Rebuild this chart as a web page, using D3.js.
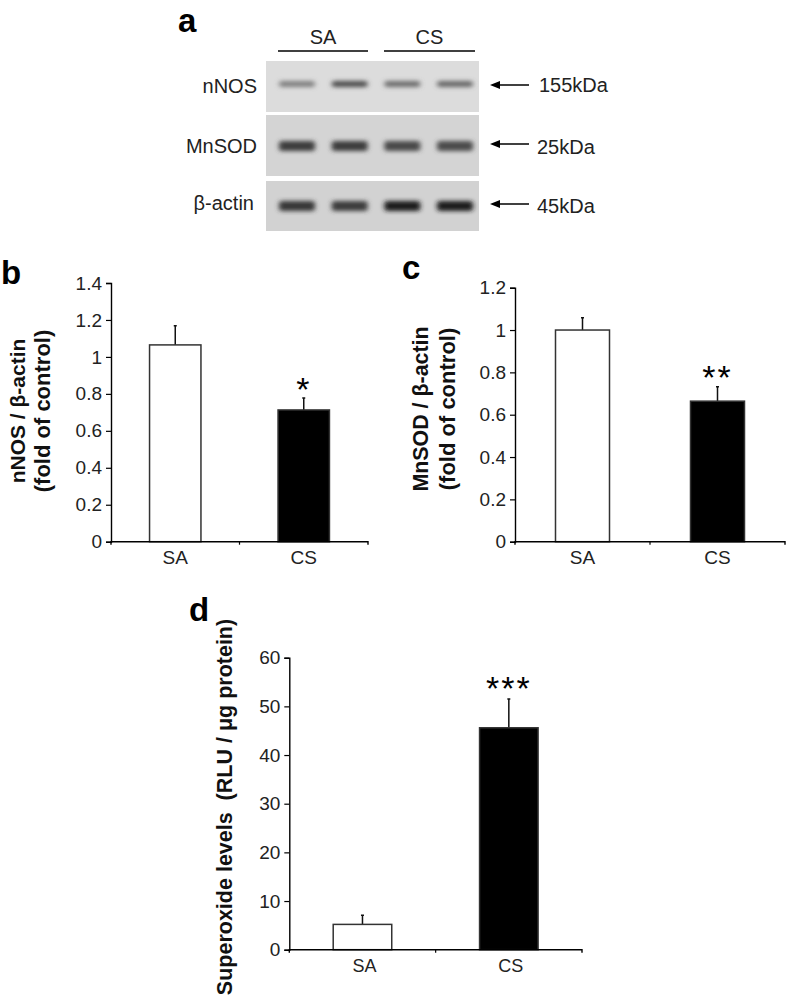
<!DOCTYPE html>
<html>
<head>
<meta charset="utf-8">
<script src="https://cdn.jsdelivr.net/npm/d3@7"></script>
<style>
  html, body { margin: 0; padding: 0; background: #fff; }
  svg { display: block; }
  text { font-family: "Liberation Sans", sans-serif; fill: #222; }
  .letter { font-size: 33px; font-weight: bold; fill: #000; }
  .title { font-weight: bold; fill: #111; }
  .tick text { font-size: 19px; fill: #222; }
  .blot-label { font-size: 20px; }
</style>
</head>
<body>
<svg id="fig" width="786" height="998"></svg>
<script>
// bar data
var groups = ["SA", "CS"];
var nnosMeans = [1.065, 0.713];
var nnosErrors = [0.104, 0.065];
var nnosTicks = [0, 0.2, 0.4, 0.6, 0.8, 1, 1.2, 1.4];
var mnsodMeans = [1.0, 0.664];
var mnsodErrors = [0.058, 0.068];
var mnsodTicks = [0, 0.2, 0.4, 0.6, 0.8, 1, 1.2];
var superoxideMeans = [5.2, 45.6];
var superoxideErrors = [1.9, 5.9];
var superoxideTicks = [0, 10, 20, 30, 40, 50, 60];

// blot data: band darkness per lane, 0 to 1
var blotLanes = [0, 1, 2, 3];
var blotProteins = ["nNOS", "MnSOD", "\u03b2-actin"];
var blotSizes = ["155kDa", "25kDa", "45kDa"];
var nnosBands = [0.45, 0.72, 0.55, 0.58];
var mnsodBands = [0.8, 0.8, 0.74, 0.72];
var actinBands = [0.82, 0.8, 0.95, 0.95];

var svg = d3.select("#fig");
var defs = svg.append("defs");

defs.append("filter").attr("id", "bandBlur")
    .attr("x", "-20%").attr("y", "-100%").attr("width", "140%").attr("height", "300%")
    .append("feGaussianBlur").attr("stdDeviation", "2.6 2");

var marker = defs.append("marker").attr("id", "arrowHead")
    .attr("viewBox", "0 0 10 8").attr("refX", 0).attr("refY", 4)
    .attr("markerUnits", "userSpaceOnUse")
    .attr("markerWidth", 10).attr("markerHeight", 9).attr("orient", "auto");
marker.append("path").attr("d", "M0,0L10,4L0,8Z").attr("fill", "#000");

var letter = function(s, x, y) {
    svg.append("text").attr("class", "letter").attr("x", x).attr("y", y).text(s);
};

// panel a
var drawBlot = function() {
    var lane = d3.scalePoint().domain(blotLanes).range([297, 455]);
    var darkness = d3.scaleLinear().domain([0, 1]).range(["#d8d8d8", "#151515"]);
    var rows = [
        {top: 61, bottom: 112, band: 84, h: 6, labelY: 93, arrowY: 85, sizeX: 539, sizeY: 92, bg: "#dcdcdc", labelX: 257, vals: nnosBands},
        {top: 115, bottom: 176, band: 146, h: 10, labelY: 153, arrowY: 144, sizeX: 537, sizeY: 154, bg: "#d4d4d4", labelX: 257, vals: mnsodBands},
        {top: 181, bottom: 231, band: 206, h: 10, labelY: 210, arrowY: 204, sizeX: 537, sizeY: 213, bg: "#d2d2d2", labelX: 254, vals: actinBands}
    ];

    rows.forEach(function(r, i) {
        svg.append("rect").attr("x", 266).attr("y", r.top)
            .attr("width", 213).attr("height", r.bottom - r.top)
            .attr("fill", r.bg);

        svg.append("g").attr("filter", "url(#bandBlur)")
            .selectAll("rect").data(r.vals).enter().append("rect")
            .attr("x", function(d, j) { return lane(j) - 18; })
            .attr("y", r.band - r.h / 2)
            .attr("width", 36)
            .attr("height", r.h)
            .attr("rx", 3)
            .attr("fill", function(d) { return darkness(d); });

        svg.append("text").attr("class", "blot-label")
            .attr("x", r.labelX).attr("y", r.labelY)
            .attr("text-anchor", "end").text(blotProteins[i]);

        // drawn right to left so the head lands on the blot side
        svg.append("line")
            .attr("x1", 529).attr("x2", 500)
            .attr("y1", r.arrowY).attr("y2", r.arrowY)
            .attr("stroke", "#000").attr("stroke-width", 1.5)
            .attr("marker-end", "url(#arrowHead)");

        svg.append("text").attr("class", "blot-label")
            .attr("x", r.sizeX).attr("y", r.sizeY).text(blotSizes[i]);
    });

    var headers = [{x1: 278, x2: 368}, {x1: 384, x2: 475}];
    headers.forEach(function(h, i) {
        svg.append("line").attr("x1", h.x1).attr("x2", h.x2)
            .attr("y1", 51).attr("y2", 51)
            .attr("stroke", "#000").attr("stroke-width", 1.5);
        svg.append("text").attr("class", "blot-label")
            .attr("x", (h.x1 + h.x2) / 2).attr("y", 44)
            .attr("text-anchor", "middle").text(groups[i]);
    });
};

// panels b, c, d
var drawBars = function(o) {
    var x = d3.scaleBand().domain(groups).range([o.x0, o.x1])
        .paddingInner(0.6).paddingOuter(0.3);
    var y = d3.scaleLinear().domain([0, o.max]).range([o.y0, o.y1]);
    var g = svg.append("g");
    var bw = x.bandwidth();

    // error bars go under the bars
    g.selectAll(".err").data(o.means).enter().append("path")
        .attr("class", "err")
        .attr("fill", "none").attr("stroke", "#111").attr("stroke-width", 1.5)
        .attr("d", function(d, i) {
            var cx = x(groups[i]) + bw / 2;
            var top = y(d + o.errors[i]);
            return "M" + cx + "," + y(d) + "V" + top + "M" + (cx - 1.5) + "," + top + "H" + (cx + 1.5);
        });

    g.selectAll(".bar").data(o.means).enter().append("rect")
        .attr("class", "bar")
        .attr("x", function(d, i) { return x(groups[i]); })
        .attr("y", function(d) { return y(d); })
        .attr("width", bw)
        .attr("height", function(d) { return y(0) - y(d); })
        .attr("fill", function(d, i) { return i == 0 ? "#fff" : "#000"; })
        .attr("stroke", "#333").attr("stroke-width", 1.5);

    var yAxis = d3.axisLeft(y).tickValues(o.ticks).tickSize(5).tickPadding(4)
        .tickFormat(function(d) { return String(d); });
    var yg = g.append("g").attr("transform", "translate(" + o.x0 + ",0)").call(yAxis);
    yg.select(".domain").attr("stroke", "#000").attr("stroke-width", 1.4);
    yg.selectAll(".tick line").attr("stroke", "#000").attr("stroke-width", 1.2);

    var xAxis = d3.axisBottom(x).tickSize(0).tickPadding(o.catPad);
    var xg = g.append("g").attr("transform", "translate(0," + o.y0 + ")").call(xAxis);
    xg.select(".domain").attr("stroke", "#000").attr("stroke-width", 1.4)
        .attr("d", "M" + o.x0 + ",3V0H" + o.x1 + "V3");
    xg.selectAll(".tick text").style("font-size", o.catSize + "px").attr("dx", o.catDx);
    g.append("line")
        .attr("x1", (o.x0 + o.x1) / 2).attr("x2", (o.x0 + o.x1) / 2)
        .attr("y1", o.y0).attr("y2", o.y0 + 3)
        .attr("stroke", "#000").attr("stroke-width", 1.2);

    o.titles.forEach(function(t) {
        g.append("text").attr("class", "title")
            .attr("transform", "translate(" + t.x + "," + t.y + ") rotate(-90)")
            .attr("text-anchor", "middle")
            .style("font-size", t.size + "px")
            .text(t.text);
    });

    g.append("text")
        .attr("x", x("CS") + bw / 2)
        .attr("y", y(o.means[1] + o.errors[1]) - o.starGap)
        .attr("text-anchor", "middle")
        .style("font-size", "34px")
        .style("fill", "#000")
        .style("letter-spacing", "2px")
        .text(o.stars);
};

drawBlot();

drawBars({
    means: nnosMeans, errors: nnosErrors, ticks: nnosTicks, max: 1.4,
    x0: 111, x1: 368, y0: 541.7, y1: 283,
    catSize: 19, catPad: 9, catDx: 0, stars: "*", starGap: -3,
    titles: [
        {text: "nNOS / \u03b2-actin", x: 25, y: 411, size: 21},
        {text: "(fold of control)", x: 50, y: 411, size: 22}
    ]
});

drawBars({
    means: mnsodMeans, errors: mnsodErrors, ticks: mnsodTicks, max: 1.2,
    x0: 515, x1: 785, y0: 541.7, y1: 287.7,
    catSize: 19, catPad: 9, catDx: 0, stars: "**", starGap: -2,
    titles: [
        {text: "MnSOD / \u03b2-actin", x: 428, y: 409, size: 21.4},
        {text: "(fold of control)", x: 455, y: 409, size: 22}
    ]
});

drawBars({
    means: superoxideMeans, errors: superoxideErrors, ticks: superoxideTicks, max: 60,
    x0: 289.3, x1: 582, y0: 949.7, y1: 657.7,
    catSize: 18, catPad: 10, catDx: 2, stars: "***", starGap: -1,
    titles: [
        {text: "Superoxide levels\u00a0\u00a0(RLU / \u03bcg protein)", x: 232, y: 807, size: 21.5}
    ]
});

letter("a", 178, 32);
letter("b", 1, 284);
letter("c", 402, 279);
letter("d", 189, 621);
</script>
</body>
</html>
